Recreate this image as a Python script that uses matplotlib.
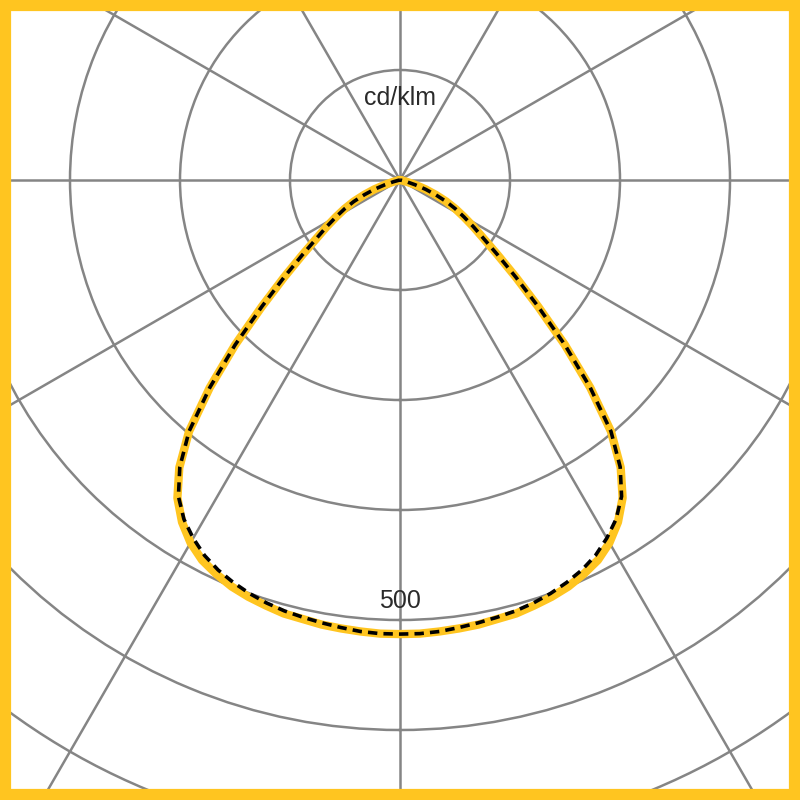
import numpy as np
import matplotlib
matplotlib.use('Agg')
import matplotlib.pyplot as plt
from matplotlib.patches import Rectangle

# gamma angles (deg from nadir) and intensities in cd/klm
gamma = [0, 2.5, 5, 7.5, 10, 12.5, 15, 17.5, 20, 22.5, 25, 27.5, 30, 32.5, 35, 37.5,
         40, 42.5, 45, 47.5, 50, 52.5, 55, 57.5, 60, 62.5, 65, 67.5, 70, 72.5, 75,
         77.5, 80, 85, 90]
c0_c180 = [516, 516, 515, 514, 513, 511, 510, 507, 504, 500, 494, 487, 476, 461, 441, 412,
           373, 320, 265, 213, 172, 140, 116, 99, 84, 71, 58, 44, 31, 18, 8,
           2, 0, 0, 0]
c90_c270 = [516, 516, 515, 513, 511, 509, 507, 504, 500, 495, 489, 481, 470, 457, 439, 411,
            373, 320, 265, 213, 172, 140, 116, 99, 84, 71, 58, 44, 31, 18, 8,
            2, 0, 0, 0]

ring_values = [125, 250, 375, 500, 625, 750, 875]
unit_label = 'cd/klm'
ring_label = '500'

yellow = '#FFC520'
grid_grey = '#858585'


def full_plane(vals):
	# mirror one half-plane onto the other side of the nadir
	g = np.radians(gamma)
	th = np.concatenate([-g[::-1], g[1:]])
	r = np.concatenate([np.array(vals)[::-1], np.array(vals)[1:]])
	return th, r


fig = plt.figure(figsize=(8, 8), dpi=100)
fig.patch.set_facecolor('white')

# polar axes bigger than the figure, pole placed at (400, 180) px
rmax = 900
px_per_unit = 0.88
rad_px = rmax * px_per_unit
cx, cy = 400, 800 - 180
ax = fig.add_axes([(cx - rad_px) / 800, (cy - rad_px) / 800, 2 * rad_px / 800, 2 * rad_px / 800],
				  projection='polar')
ax.set_theta_zero_location('S')
ax.set_ylim(0, rmax)
ax.set_thetagrids(np.arange(0, 360, 30), labels=[])
ax.set_rgrids(ring_values, labels=[])
ax.grid(True, color=grid_grey, linewidth=1.8)
ax.spines['polar'].set_visible(False)
ax.set_facecolor('white')

th, r = full_plane(c0_c180)
ax.plot(th, r, color=yellow, lw=6, solid_joinstyle='round', solid_capstyle='round', zorder=3)
th, r = full_plane(c90_c270)
ax.plot(th, r, color='black', lw=2.6, linestyle=(0, (2.6, 1.7)), zorder=4)

ax.text(np.pi, 93, unit_label, ha='center', va='center', fontsize=18,
		family='Liberation Sans', color='#2a2a2a', zorder=5)
ax.text(0, 478, ring_label, ha='center', va='center', fontsize=18,
		family='Liberation Sans', color='#2a2a2a', zorder=5)

fig.add_artist(Rectangle((0, 0), 1, 1, transform=fig.transFigure, fill=False,
						 edgecolor=yellow, linewidth=16, zorder=10))

fig.savefig('out.png', dpi=100)
